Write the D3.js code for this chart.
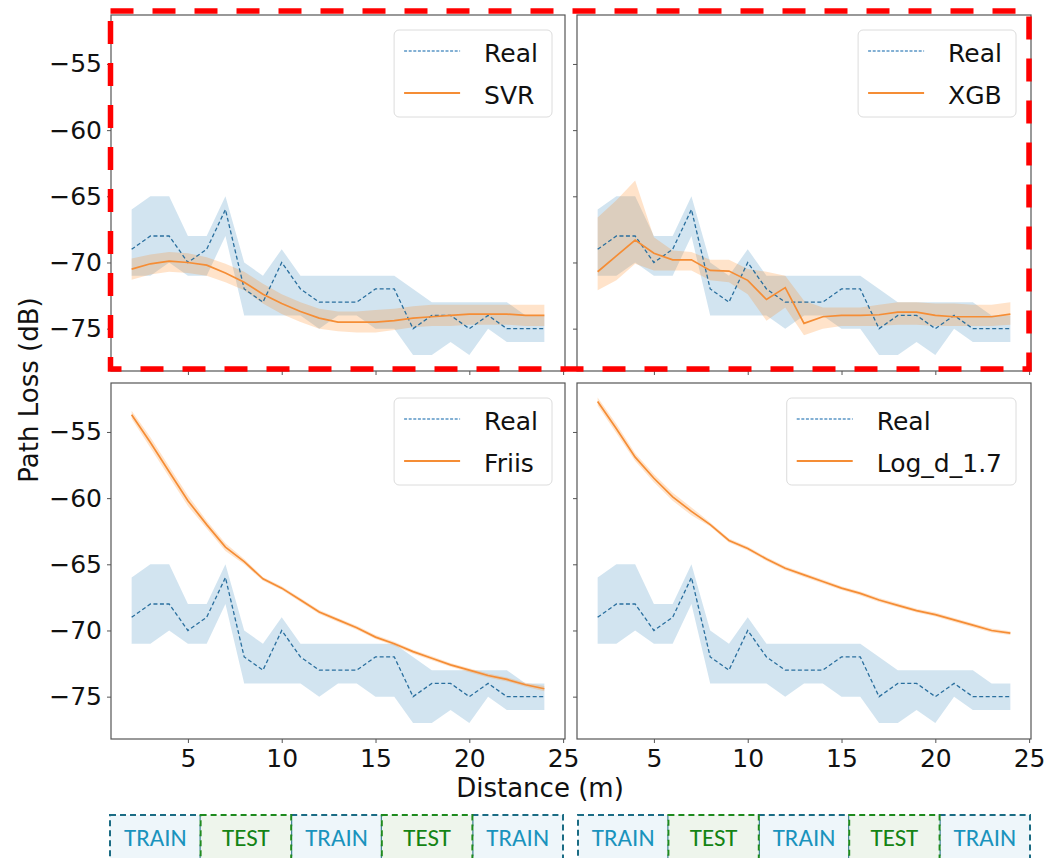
<!DOCTYPE html>
<html>
<head>
<meta charset="utf-8">
<script src="https://cdn.jsdelivr.net/npm/d3@7"></script>
<style>
  body { margin: 0; background: #fff; }
  svg { display: block; }
</style>
</head>
<body>
<svg id="chart" width="1053" height="858"></svg>
<script>
// distances (m)
const dist = [2, 3, 4, 5, 6, 7, 8, 9, 10, 11, 12, 13, 14, 15, 16, 17, 18, 19, 20, 21, 22, 23, 24];

// measured path loss (dB) with min / max band
const realMean = [-69, -68, -68, -70, -69, -66, -72, -73, -70, -72, -73, -73, -73, -72, -72, -75, -74, -74, -75, -74, -75, -75, -75];
const realHi = [-66, -65, -65, -68, -68, -65, -70, -71, -69, -71, -71, -71, -71, -71, -71, -72, -73, -73, -73, -73, -73, -74, -74];
const realLo = [-71, -71, -70, -71, -71, -68, -74, -74, -74, -74, -75, -74, -74, -75, -75, -77, -77, -76, -77, -75, -76, -76, -76];

// model predictions
const svrMean = [-70.5, -70.1, -69.9, -70.0, -70.2, -70.8, -71.5, -72.4, -73.1, -73.7, -74.2, -74.5, -74.5, -74.5, -74.4, -74.2, -74.1, -74.0, -73.9, -73.9, -73.9, -74.0, -74.0];
const svrHi = [-69.7, -69.4, -69.2, -69.3, -69.6, -70.1, -70.7, -71.6, -72.4, -73.0, -73.5, -73.7, -73.7, -73.6, -73.5, -73.3, -73.2, -73.2, -73.2, -73.2, -73.2, -73.2, -73.2];
const svrLo = [-71.3, -70.9, -70.7, -70.8, -71.0, -71.5, -72.1, -73.1, -73.9, -74.5, -75.0, -75.2, -75.3, -75.3, -75.1, -74.9, -74.8, -74.8, -74.7, -74.7, -74.7, -74.8, -74.8];

const xgbMean = [-70.7, -69.5, -68.3, -69.3, -69.8, -69.8, -70.6, -70.65, -71.35, -72.8, -71.9, -74.6, -74.1, -74.0, -74.0, -73.95, -73.75, -73.75, -74.0, -74.1, -74.1, -74.1, -73.9];
const xgbHi = [-66.6, -65.3, -63.8, -68.1, -69.1, -69.2, -69.8, -69.8, -70.5, -70.7, -71.0, -72.9, -73.4, -73.4, -73.4, -73.2, -73.0, -73.0, -73.1, -73.1, -73.2, -73.2, -73.0];
const xgbLo = [-72.1, -71.35, -70.1, -70.6, -70.6, -70.6, -71.35, -71.5, -72.4, -74.4, -73.4, -75.5, -75.0, -74.8, -74.8, -74.8, -74.7, -74.7, -74.8, -74.8, -74.8, -74.8, -74.7];

const friisMean = [-53.7, -55.8, -58.0, -60.2, -62.0, -63.7, -64.8, -66.1, -66.8, -67.7, -68.6, -69.2, -69.8, -70.5, -71.0, -71.6, -72.1, -72.6, -73.0, -73.4, -73.7, -74.1, -74.4];
const friisHi = [-53.4, -55.4, -57.6, -59.8, -61.7, -63.4, -64.6, -65.95, -66.65, -67.55, -68.45, -69.05, -69.65, -70.35, -70.85, -71.45, -71.95, -72.45, -72.85, -73.25, -73.55, -73.95, -74.2];
const friisLo = [-54.0, -56.2, -58.4, -60.6, -62.3, -64.0, -65.0, -66.25, -66.95, -67.85, -68.75, -69.35, -69.95, -70.65, -71.15, -71.75, -72.25, -72.75, -73.15, -73.55, -73.85, -74.25, -74.6];

const logMean = [-52.7, -54.75, -56.9, -58.5, -59.9, -61.0, -62.0, -63.2, -63.8, -64.6, -65.3, -65.8, -66.3, -66.8, -67.2, -67.7, -68.1, -68.5, -68.8, -69.2, -69.6, -70.0, -70.2];
const logHi = [-52.4, -54.4, -56.6, -58.2, -59.6, -60.7, -61.85, -63.05, -63.65, -64.45, -65.15, -65.65, -66.15, -66.65, -67.05, -67.55, -67.95, -68.35, -68.65, -69.05, -69.45, -69.85, -70.05];
const logLo = [-53.0, -55.1, -57.2, -58.8, -60.2, -61.3, -62.15, -63.35, -63.95, -64.75, -65.45, -65.95, -66.45, -66.95, -67.35, -67.85, -68.25, -68.65, -68.95, -69.35, -69.75, -70.15, -70.35];

const modelNames = ['SVR', 'XGB', 'Friis', 'Log_d_1.7'];
const xTicks = [5, 10, 15, 20, 25];
const yTicks = [-75, -70, -65, -60, -55];
const splitLabels = ['TRAIN', 'TEST', 'TRAIN', 'TEST', 'TRAIN'];

// setup
const svg = d3.select('#chart');
const colX = [111, 577],
  rowY = [15, 383],
  pw = 454,
  ph = 356;
const tickFont = 'DejaVu Sans';

const x = d3.scaleLinear().domain([0.9, 25.1]).range([0, pw]);
const y = d3.scaleLinear().domain([-78.2, -51.3]).range([ph, 0]);

const panels = [
  { name: modelNames[0], mean: svrMean, lo: svrLo, hi: svrHi, col: 0, row: 0 },
  { name: modelNames[1], mean: xgbMean, lo: xgbLo, hi: xgbHi, col: 1, row: 0 },
  { name: modelNames[2], mean: friisMean, lo: friisLo, hi: friisHi, col: 0, row: 1 },
  { name: modelNames[3], mean: logMean, lo: logLo, hi: logHi, col: 1, row: 1 }
];

const area = (lo, hi) =>
  d3.area()
    .x((d, i) => x(dist[i]))
    .y0((d, i) => y(lo[i]))
    .y1((d, i) => y(hi[i]))(dist);
const line = (v) =>
  d3.line()
    .x((d, i) => x(dist[i]))
    .y((d, i) => y(v[i]))(dist);

panels.forEach((p) => {
  const g = svg.append('g')
    .attr('transform', `translate(${colX[p.col]},${rowY[p.row]})`);

  // bands first, then lines
  g.append('path').attr('d', area(realLo, realHi))
    .attr('fill', '#1f77b4').attr('fill-opacity', 0.2);
  g.append('path').attr('d', area(p.lo, p.hi))
    .attr('fill', '#ff7f0e').attr('fill-opacity', 0.22);
  g.append('path').attr('d', line(realMean))
    .attr('fill', 'none').attr('stroke', '#2a6f9e')
    .attr('stroke-width', 1.3).attr('stroke-dasharray', '4,2.5');
  g.append('path').attr('d', line(p.mean))
    .attr('fill', 'none').attr('stroke', '#f58d35')
    .attr('stroke-width', 1.7);

  // axes
  const xAxis = d3.axisBottom(x).tickValues(xTicks).tickSizeInner(4).tickSizeOuter(0).tickPadding(6);
  const yAxis = d3.axisLeft(y).tickValues(yTicks).tickSizeInner(4).tickSizeOuter(0).tickPadding(5);
  if (p.row === 0) xAxis.tickFormat('');
  if (p.col === 1) yAxis.tickFormat('');

  const gx = g.append('g').attr('transform', `translate(0,${ph})`).call(xAxis);
  const gy = g.append('g').call(yAxis);
  [gx, gy].forEach((a) => {
    a.select('.domain').remove();
    a.selectAll('line').attr('stroke', '#555');
    a.selectAll('text')
      .attr('fill', '#111')
      .style('font-family', tickFont)
      .style('font-size', '25px');
  });

  g.append('rect')
    .attr('width', pw).attr('height', ph)
    .attr('fill', 'none').attr('stroke', '#555').attr('stroke-width', 1.2);

  // legend
  const leg = g.append('g');
  const box = leg.append('rect')
    .attr('rx', 5)
    .attr('fill', '#fff').attr('fill-opacity', 0.85)
    .attr('stroke', '#dcdcdc');
  const items = [
    { label: 'Real', color: '#5b97c6', dash: '3,1.6', w: 1.3 },
    { label: p.name, color: '#f58d35', dash: null, w: 2 }
  ];
  let maxW = 0;
  items.forEach((it, i) => {
    const cy = 21 + i * 42;
    leg.append('line')
      .attr('x1', 10).attr('x2', 66).attr('y1', cy).attr('y2', cy)
      .attr('stroke', it.color).attr('stroke-width', it.w)
      .attr('stroke-dasharray', it.dash);
    const t = leg.append('text')
      .attr('x', 90).attr('y', cy + 11)
      .attr('fill', '#111')
      .style('font-family', tickFont).style('font-size', '25px')
      .text(it.label);
    maxW = Math.max(maxW, t.node().getComputedTextLength());
  });
  const bw = 90 + maxW + 14;
  box.attr('width', bw).attr('height', 87);
  const right = p.col === 0 ? pw - 13 : pw - 15;
  leg.attr('transform', `translate(${right - bw},15)`);
});

// axis labels
svg.append('text')
  .attr('x', 540).attr('y', 797)
  .attr('text-anchor', 'middle')
  .style('font-family', tickFont).style('font-size', '26px')
  .attr('fill', '#111')
  .text('Distance (m)');
svg.append('text')
  .attr('transform', 'translate(38,390) rotate(-90)')
  .attr('text-anchor', 'middle')
  .style('font-family', tickFont).style('font-size', '26px')
  .attr('fill', '#111')
  .text('Path Loss (dB)');

// highlight round the top row
svg.append('rect')
  .attr('x', 110.5).attr('y', 11)
  .attr('width', 918.5).attr('height', 358)
  .attr('fill', 'none').attr('stroke', '#ff0000')
  .attr('stroke-width', 5.5).attr('stroke-dasharray', '23,19');

// train / test split boxes under each column
const splitStyle = {
  TRAIN: { fill: '#eef6fa', stroke: '#1b6c84', text: '#1a93bd' },
  TEST: { fill: '#eef5ec', stroke: '#1e8a1e', text: '#148414' }
};
[[110, 563], [578, 1030]].forEach(([x0, x1]) => {
  const band = d3.scaleBand().domain(d3.range(splitLabels.length)).range([x0, x1]);
  const order = [0, 2, 4, 1, 3];
  order.forEach((i) => {
    const s = splitStyle[splitLabels[i]];
    svg.append('rect')
      .attr('x', band(i)).attr('y', 815)
      .attr('width', band.bandwidth()).attr('height', 60)
      .attr('fill', s.fill).attr('stroke', s.stroke)
      .attr('stroke-width', 2).attr('stroke-dasharray', '6,4');
    svg.append('text')
      .attr('x', band(i) + band.bandwidth() / 2).attr('y', 846)
      .attr('text-anchor', 'middle')
      .style('font-family', "Carlito, 'Open Sans', sans-serif").style('font-size', '25px')
      .attr('fill', s.text)
      .text(splitLabels[i]);
  });
});
</script>
</body>
</html>
